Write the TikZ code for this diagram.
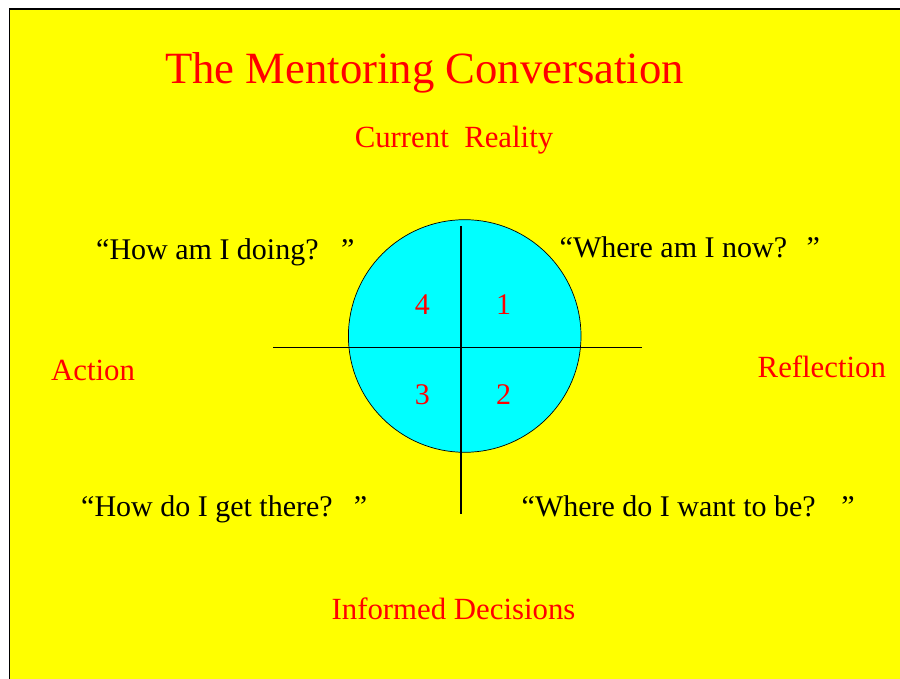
\documentclass[tikz,border=0pt]{standalone}
\usepackage{fontspec}
\setmainfont{Liberation Serif}
\definecolor{slideyellow}{RGB}{255,255,0}
\definecolor{discfill}{RGB}{0,255,255}
\definecolor{slidered}{RGB}{255,0,0}
\begin{document}
\begin{tikzpicture}[x=1pt,y=-1pt,
  title/.style={inner sep=0pt,anchor=base,text=slidered,font=\fontsize{44.7}{50}\selectfont},
  axislabel/.style={inner sep=0pt,text=slidered,font=\fontsize{30.8}{36}\selectfont},
  question/.style={inner sep=0pt,anchor=base west,text=black,font=\fontsize{30}{36}\selectfont},
  quadrant/.style={inner sep=0pt,anchor=base,text=slidered,font=\fontsize{30}{34}\selectfont},
  disc/.style={circle,draw=black,line width=0.7pt,fill=discfill,minimum size=232.6pt,inner sep=0pt},
  crossline/.style={draw=black,line width=0.8pt},
  axisline/.style={draw=black,line width=2.2pt}]
  % page and slide background
  \useasboundingbox (0,0) rectangle (900,679);
  \fill[white] (0,0) rectangle (900,679);
  \fill[slideyellow] (9.5,9) rectangle (900,679);
  \draw[black,line width=1.5pt] (9.5,679) -- (9.5,9) -- (900,9);

  % title
  \node[title] (title) at (424.5,84) {The Mentoring Conversation};

  % disc with the four quadrants
  \node[disc] (circ) at (464.7,336) {};
  \coordinate (hleft) at (273.3,347.7);
  \coordinate (hright) at (641.7,347.7);
  \coordinate (vtop) at (461,226);
  \coordinate (vbottom) at (461,514);
  \draw[crossline] (hleft) -- (hright);
  \draw[axisline] (vtop) -- (vbottom);

  \node[quadrant] (q4) at (422.3,314) {4};
  \node[quadrant] (q1) at (503.7,314) {1};
  \node[quadrant] (q3) at (422.3,404) {3};
  \node[quadrant] (q2) at (503.7,404) {2};

  % axis labels
  \node[axislabel,anchor=base] (reality) at (454,147.3) {Current\ \ Reality};
  \node[axislabel,anchor=base west] (action) at (51,380.5) {Action};
  \node[axislabel,anchor=base west] (reflection) at (757.5,377) {Reflection};
  \node[axislabel,anchor=base] (decisions) at (453.5,619.5) {Informed Decisions};

  % mentoring questions
  \node[question] (doing) at (96,259.3) {“How am I doing?\hspace{0.75em}”};
  \node[question] (now) at (559.5,257.3) {“Where am I now?\hspace{0.65em}”};
  \node[question] (getthere) at (81,516.7) {“How do I get there?\hspace{0.7em}”};
  \node[question] (wantbe) at (521.5,516) {“Where do I want to be?\hspace{0.85em}”};
\end{tikzpicture}
\end{document}
